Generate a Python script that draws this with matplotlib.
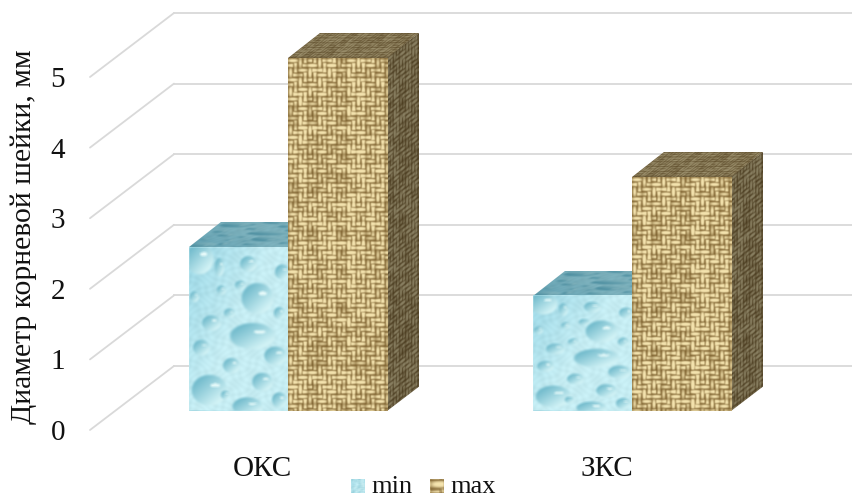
import numpy as np
import matplotlib
matplotlib.use('Agg')
from matplotlib import pyplot as plt
from matplotlib.transforms import Affine2D

plt.rcParams['font.family'] = ['Liberation Serif', 'DejaVu Serif']

categories = ['ОКС', 'ЗКС']
series_names = ['min', 'max']
min_values = [2.32, 1.63]
max_values = [5.0, 3.31]
y_ticks = [0, 1, 2, 3, 4, 5]
y_title = 'Диаметр корневой шейки, мм'

# droplets on the water fill: centre x, centre y, radius x, radius y (fractions of the face)
DROPS = [
    (0.63, 0.54, 0.24, 0.085), (0.20, 0.87, 0.19, 0.10), (0.58, 0.97, 0.16, 0.06),
    (0.68, 0.31, 0.17, 0.10), (0.22, 0.46, 0.10, 0.05), (0.59, 0.10, 0.09, 0.05),
    (0.86, 0.66, 0.12, 0.06), (0.42, 0.72, 0.09, 0.05), (0.12, 0.61, 0.09, 0.05),
    (0.73, 0.82, 0.11, 0.06), (0.51, 0.23, 0.06, 0.03), (0.32, 0.26, 0.05, 0.03),
    (0.10, 0.07, 0.15, 0.10), (0.93, 0.15, 0.08, 0.05), (0.30, 0.12, 0.05, 0.06),
    (0.90, 0.93, 0.08, 0.05), (0.05, 0.30, 0.05, 0.035), (0.40, 0.40, 0.06, 0.03),
    (0.90, 0.40, 0.06, 0.04), (0.36, 0.90, 0.05, 0.03),
]

WIDTH, HEIGHT = 852, 493
PX_PER_CATEGORY = 344.0
PX_PER_UNIT = 70.6
ZERO_X, ZERO_Y = 262.0, 430.0

# oblique offset of the back wall, in data units
DEPTH_X = 84.0 / PX_PER_CATEGORY
DEPTH_Y = 64.0 / PX_PER_UNIT
BAR_WIDTH = 0.288
BAR_SHIFT = 0.002
DEPTH_FRONT, DEPTH_BACK = 0.30, 0.68
WALL_LEFT = -0.5
GRID_COLOR = '#d9d9d9'


def lerp_color(dark, light, t):
    dark = np.array(matplotlib.colors.to_rgb(dark))
    light = np.array(matplotlib.colors.to_rgb(light))
    return dark + (light - dark) * np.clip(t, 0, 1)[..., None]


def soften(img, passes=1):
    # small box blur along both axes
    for _ in range(passes):
        img = (img + np.roll(img, 1, 0) + np.roll(img, -1, 0)) / 3
        img = (img + np.roll(img, 1, 1) + np.roll(img, -1, 1)) / 3
    return img


def with_alpha(img):
    # transparent surroundings when the face is sheared
    return np.dstack([np.clip(img, 0, 1), np.ones(img.shape[:2])])


def thread_hash(n):
    return (np.sin(n * 12.9898) * 43758.5453) % 1


def burlap(w, h, pitch=4.8):
    yy, xx = np.mgrid[0:h * 2, 0:w * 2] / 2.0
    warp = np.floor(xx / pitch).astype(int)
    weft = np.floor(yy / pitch).astype(int)
    # twill that flips direction every few threads
    flip = (warp // 5) % 2
    over = ((warp * (1 - 2 * flip) + weft) % 4) < 2
    across = np.where(over, yy / pitch % 1, xx / pitch % 1)
    along = np.where(over, xx / (pitch * 2) % 1, yy / (pitch * 2) % 1)
    tint = np.where(over, thread_hash(weft + 0.5), thread_hash(warp + 100.5))
    patch = thread_hash((warp // 2) * 31.0 + (weft // 2) * 7.0 + 0.3)
    shade = np.sin(np.pi * across) * (0.5 + 0.5 * np.sin(np.pi * along))
    shade = shade * (0.65 + 0.35 * tint) * (0.75 + 0.5 * patch)
    img = lerp_color('#6a4c1a', '#f4e3ae', 0.06 + shade * 1.45)
    return soften(img)


def water(w, h):
    yy, xx = np.mgrid[0:h, 0:w]
    fx, fy = xx / float(w), yy / float(h)
    img = lerp_color('#8ccfe0', '#c6edf3', 0.25 + fx * 0.9 + fy * 0.7)
    # small bumps between the larger drops
    bumps = np.sin(xx * 0.55 + np.sin(yy * 0.3) * 2) * np.sin(yy * 0.6 + np.sin(xx * 0.2) * 2)
    img = img + (bumps * 0.03)[..., None]
    for cx, cy, rx, ry in DROPS:
        dx = (fx - cx) / rx
        dy = (fy - cy) / ry
        r2 = dx ** 2 + dy ** 2
        inside = r2 < 1
        tone = lerp_color('#74bccd', '#d2f3f6', 0.5 + 0.6 * (dx + dy) / 1.4)
        edge = np.clip((1 - r2) * 4, 0, 1)[..., None]
        img = np.where(inside[..., None], img * (1 - edge) + tone * edge, img)
        glint = ((dx - 0.30) / 0.25) ** 2 + ((dy + 0.30) / 0.12) ** 2 < 1
        img[glint] = [0.90, 0.98, 0.98]
    return soften(np.clip(img, 0, 1))


def project(x, value, depth):
    return x + depth * DEPTH_X, value + depth * DEPTH_Y


def draw_face(ax, tex, origin, u, v, zorder):
    # unit square of the image mapped on to the parallelogram origin, origin+u, origin+v
    trans = Affine2D.from_values(u[0], u[1], v[0], v[1], origin[0], origin[1]) + ax.transData
    ax.imshow(with_alpha(tex), extent=(0, 1, 0, 1), origin='upper', aspect='auto',
              interpolation='bilinear', transform=trans, zorder=zorder)


def draw_bar(ax, x0, value, tex_face, tex_top, tex_side, zorder):
    bx, by = project(x0, 0, DEPTH_FRONT)
    d = DEPTH_BACK - DEPTH_FRONT
    du = (d * DEPTH_X, d * DEPTH_Y)
    draw_face(ax, tex_side, (bx + BAR_WIDTH, by), du, (0, value), zorder)
    draw_face(ax, tex_top, (bx, by + value), (BAR_WIDTH, 0), du, zorder)
    draw_face(ax, tex_face, (bx, by), (BAR_WIDTH, 0), (0, value), zorder + 0.1)


fig = plt.figure(figsize=(WIDTH / 100, HEIGHT / 100), dpi=100)
ax = fig.add_axes([0, 0, 1, 1])
ax.axis('off')

# wall and floor grid
for tick in y_ticks:
    x_back, y_back = project(WALL_LEFT, tick, 1)
    ax.plot([WALL_LEFT, x_back], [tick, y_back], color=GRID_COLOR, lw=1.3, zorder=1,
            solid_capstyle='round')
    ax.plot([x_back, 3], [y_back, y_back], color=GRID_COLOR, lw=1.3, zorder=1)
    ax.text(WALL_LEFT - 0.072, tick, str(tick), ha='right', va='center_baseline', fontsize=21,
            color='#111111')

for i, name in enumerate(categories):
    ax.text(i + 0.002, -0.55, name, ha='center', va='center', fontsize=21, color='#111111')

    for j, values in enumerate([min_values, max_values]):
        height_px = int(values[i] * PX_PER_UNIT)
        x0 = i - BAR_WIDTH + j * BAR_WIDTH + BAR_SHIFT
        if j == 0:
            base = water(99, height_px)
            top = water(99, 40)[::-1] * np.array([0.62, 0.74, 0.77])
            side = base * 0.7
        else:
            base = burlap(99, height_px)
            top = burlap(150, 50) * 0.66
            side = burlap(50, height_px) * 0.56
        draw_bar(ax, x0, values[i], base, top, side, 2 + j + i)

ax.set_xlim((0 - ZERO_X) / PX_PER_CATEGORY, (WIDTH - ZERO_X) / PX_PER_CATEGORY)
ax.set_ylim((ZERO_Y - HEIGHT) / PX_PER_UNIT, ZERO_Y / PX_PER_UNIT)

fig.text(24 / WIDTH, 1 - 237 / HEIGHT, y_title, rotation=90, ha='center', va='center',
         fontsize=21.3, color='#111111')

# legend along the bottom edge
for name, tex, sw_x, txt_x in [(series_names[0], water(14, 14), 351, 371),
                               (series_names[1], burlap(7, 7), 430, 450)]:
    fig.figimage(np.clip(tex, 0, 1), xo=sw_x, yo=0, zorder=5, resize=False)
    fig.text(txt_x / WIDTH, 0, name, ha='left', va='baseline', fontsize=19,
             color='#111111')

fig.savefig('out.png', dpi=100)
